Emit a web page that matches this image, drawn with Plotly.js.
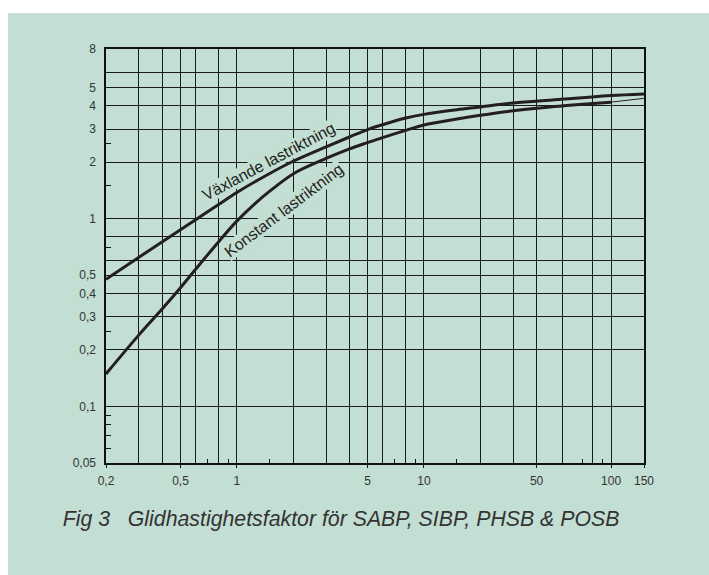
<!DOCTYPE html>
<html>
<head>
<meta charset="utf-8">
<script src="https://cdn.plot.ly/plotly-3.0.1.min.js"></script>
<style>
html,body{margin:0;padding:0;background:#ffffff;}
#chart{position:absolute;left:8px;top:13px;width:701px;height:562px;}
</style>
</head>
<body>
<div id="chart"></div>
<script>
// ---- data ----
const vaxlandeX = [0.2, 0.3, 0.4, 0.5, 0.6, 0.8, 1, 1.5, 2, 3, 4, 5, 6, 8, 10, 15, 20, 30, 50, 70, 100, 150];
const vaxlandeY = [0.476, 0.623, 0.753, 0.872, 0.984, 1.19, 1.378, 1.74, 2.02, 2.41, 2.72, 2.98, 3.16, 3.43, 3.59, 3.80, 3.93, 4.13, 4.29, 4.40, 4.52, 4.61];

const konstantX = [0.2, 0.3, 0.4, 0.5, 0.6, 0.8, 1, 1.26, 1.5, 2, 3, 4, 5, 6, 8, 10, 15, 20, 30, 50, 70, 100];
const konstantY = [0.149, 0.2405, 0.331, 0.4285, 0.535, 0.754, 0.970, 1.21, 1.40, 1.73, 2.09, 2.35, 2.54, 2.70, 2.95, 3.15, 3.39, 3.55, 3.75, 3.95, 4.06, 4.17];

const konstantExtX = [100, 150];
const konstantExtY = [4.17, 4.37];

const xGridVals = [0.3, 0.4, 0.5, 0.6, 0.8, 1, 2, 3, 4, 5, 6, 8, 10, 20, 30, 40, 55, 80, 100];
const yGridVals = [0.1, 0.2, 0.3, 0.4, 0.5, 0.6, 0.8, 1, 2, 3, 4, 5, 6];

const xTickVals = [0.2, 0.5, 1, 5, 10, 40, 100, 150];
const xTickText = ["0,2", "0,5", "1", "5", "10", "50", "100", "150"];
const yTickVals = [0.05, 0.1, 0.2, 0.3, 0.4, 0.5, 1, 2, 3, 4, 5, 8];
const yTickText = ["0,05", "0,1", "0,2", "0,3", "0,4", "0,5", "1", "2", "3", "4", "5", "8"];

const xMinorVals = [0.7, 0.9, 1.5, 7, 9, 15, 70, 90];
const yMinorVals = [0.06, 0.07, 0.08, 0.09, 0.25, 0.7, 1.5, 2.5];

const xMin = 0.2, xMax = 150, yMin = 0.05, yMax = 8;

const BG = '#c3ded3';
const INK = '#231f20';
const FONT = '"Liberation Sans", Arial, Helvetica, sans-serif';

const traces = [
  {x: vaxlandeX, y: vaxlandeY, xaxis: 'x', yaxis: 'y', mode: 'lines', name: 'Växlande lastriktning',
   line: {color: INK, width: 3, shape: 'spline', smoothing: 1}},
  {x: konstantX, y: konstantY, xaxis: 'x2', yaxis: 'y2', mode: 'lines', name: 'Konstant lastriktning',
   line: {color: INK, width: 3, shape: 'spline', smoothing: 1}},
  {x: konstantExtX, y: konstantExtY, xaxis: 'x2', yaxis: 'y2', mode: 'lines', name: 'Konstant (forts.)',
   line: {color: INK, width: 1}}
];

const xr = [Math.log10(xMin), Math.log10(xMax)];
const yr = [Math.log10(yMin), Math.log10(yMax)];

const layout = {
  width: 701, height: 562,
  paper_bgcolor: BG, plot_bgcolor: BG,
  margin: {l: 98, r: 65, t: 36, b: 112},
  showlegend: false,
  hovermode: false,
  font: {family: FONT, color: '#333333', size: 12},
  title: {
    text: 'Fig 3\u00a0\u00a0\u00a0Glidhastighetsfaktor för SABP, SIBP, PHSB & POSB',
    font: {family: FONT, size: 21.3, color: '#333333', style: 'italic'},
    x: 0.078, xanchor: 'left', xref: 'container',
    y: 0.0996, yanchor: 'middle', yref: 'container'
  },
  xaxis: {
    type: 'log', range: xr, fixedrange: true,
    tickmode: 'array', tickvals: xGridVals, showticklabels: false, ticks: '',
    showgrid: true, gridcolor: '#1a1a1a', gridwidth: 1,
    showline: true, linecolor: '#111', linewidth: 2, mirror: true, zeroline: false,
    minor: {tickmode: 'array', tickvals: xMinorVals, ticks: 'inside', ticklen: 4, tickcolor: '#111', tickwidth: 1, showgrid: false}
  },
  yaxis: {
    type: 'log', range: yr, fixedrange: true,
    tickmode: 'array', tickvals: yGridVals, showticklabels: false, ticks: '',
    showgrid: true, gridcolor: '#1a1a1a', gridwidth: 1,
    showline: true, linecolor: '#111', linewidth: 2, mirror: true, zeroline: false,
    minor: {tickmode: 'array', tickvals: yMinorVals, ticks: 'inside', ticklen: 5, tickcolor: '#111', tickwidth: 1, showgrid: false}
  },
  xaxis2: {
    type: 'log', range: xr, fixedrange: true, overlaying: 'x', anchor: 'y2', side: 'bottom',
    tickmode: 'array', tickvals: xTickVals, ticktext: xTickText,
    ticks: 'outside', ticklen: 4, tickcolor: '#111', tickwidth: 1,
    ticklabelstandoff: 3,
    tickfont: {family: FONT, size: 12, color: '#333333'},
    showgrid: false, showline: false, zeroline: false
  },
  yaxis2: {
    type: 'log', range: yr, fixedrange: true, overlaying: 'y', anchor: 'x2', side: 'left',
    tickmode: 'array', tickvals: yTickVals, ticktext: yTickText,
    ticks: '', ticklabelstandoff: 9,
    tickfont: {family: FONT, size: 12, color: '#333333'},
    showgrid: false, showline: false, zeroline: false
  },
  annotations: [
    {text: 'Växlande lastriktning', xref: 'x', yref: 'y',
     x: Math.log10(1.48), y: Math.log10(2.01), showarrow: false, textangle: -28,
     font: {family: FONT, size: 16, color: INK}, bgcolor: BG, borderpad: 0},
    {text: 'Konstant lastriktning', xref: 'x', yref: 'y',
     x: Math.log10(1.78), y: Math.log10(1.103), showarrow: false, textangle: -37,
     font: {family: FONT, size: 16, color: INK}, bgcolor: BG, borderpad: 0}
  ]
};

Plotly.newPlot('chart', traces, layout, {staticPlot: true, displayModeBar: false});
</script>
</body>
</html>
